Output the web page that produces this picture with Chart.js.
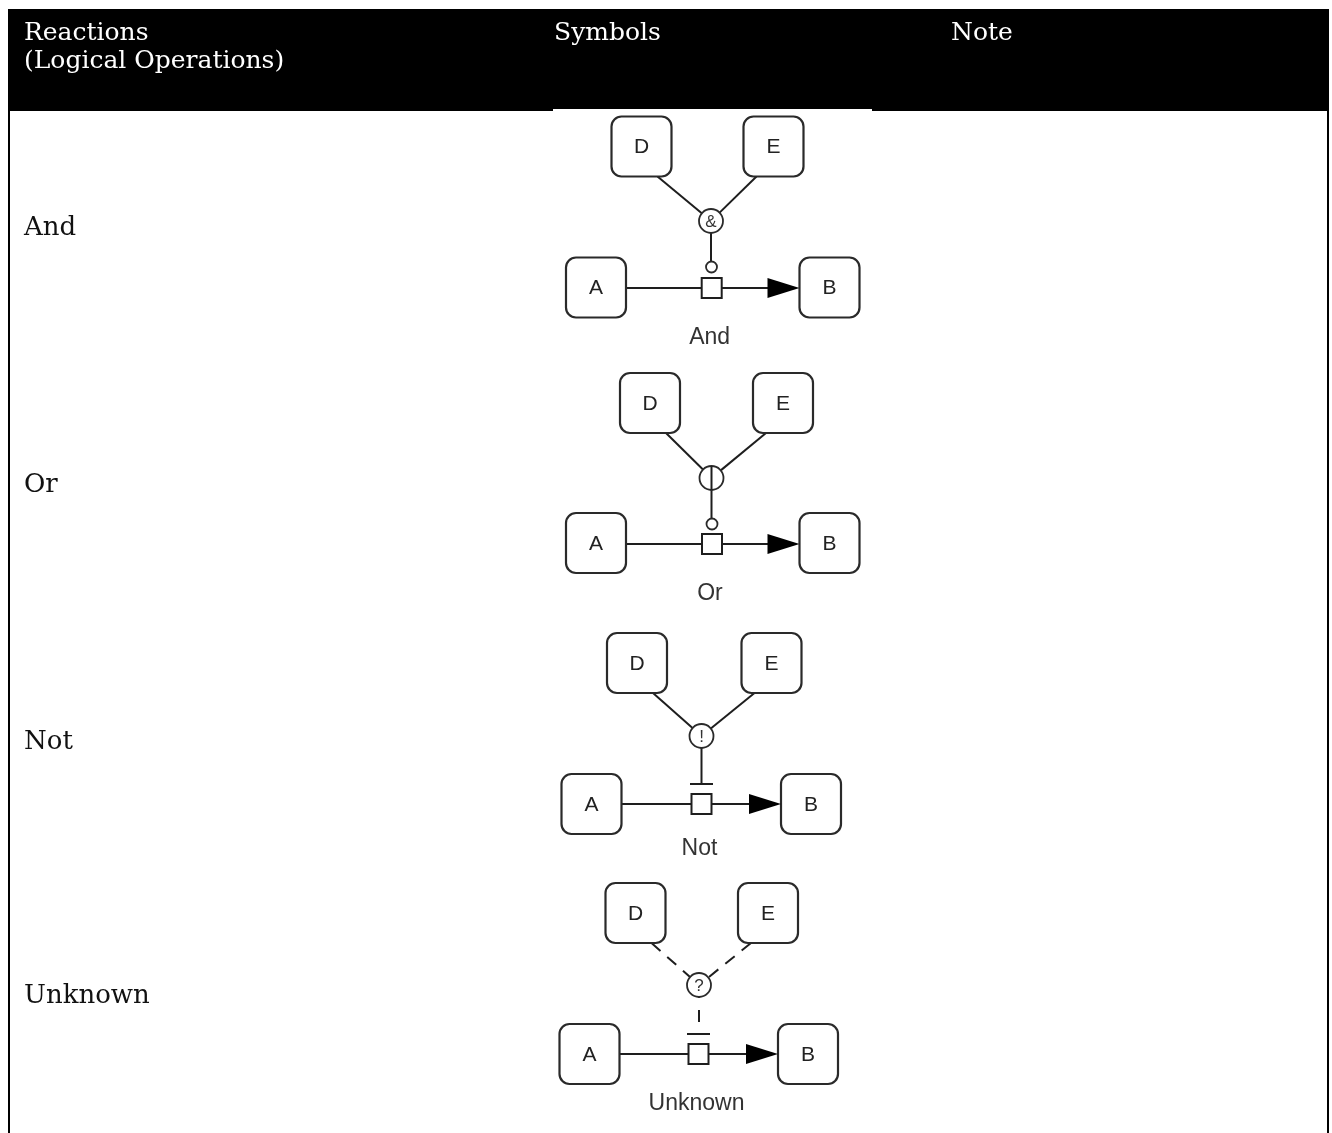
<!DOCTYPE html>
<html>
<head>
<meta charset="utf-8">
<script src="https://cdn.jsdelivr.net/npm/chart.js@4.4.1/dist/chart.umd.min.js"></script>
<style>
  html, body { margin: 0; padding: 0; background: #ffffff; }
  #wrap { width: 1332px; height: 1133px; }
</style>
</head>
<body>
<div id="wrap"><canvas id="c" width="1332" height="1133"></canvas></div>
<script>
// ---------------- data ----------------
const headerLabels = [['Reactions', '(Logical Operations)'], ['Symbols'], ['Note']];
const reactionLabels = ['And', 'Or', 'Not', 'Unknown'];
const operatorGlyphs = ['&', '|', '!', '?'];
const modifierKinds = ['circle', 'circle', 'bar', 'bar'];
const edgeKinds = ['solid', 'solid', 'solid', 'dashed'];
const nodeNames = ['A', 'B', 'D', 'E'];

// ---------------- layout (page coordinates in scale units) ----------------
const layout = {
  table: { left: 8, right: 1329, top: 9, headBottom: 111, bottom: 1133, border: 2 },
  imageCol: { left: 553, right: 872, top: 109 },
  headerX: [24, 554, 951],
  headerBaselines: [40, 68],
  rowLabelX: 24,
  rowLabelBaselines: [235, 492, 749, 1003],
  box: 60, boxRadius: 10, square: 20, opRadius: 12, modRadius: 5.5,
  arrowLen: 32, arrowHalf: 10, dOff: 16, eOff: -17,
  diagrams: [
    { sq: [711.7, 288], A: [596, 287.5], B: [829.5, 287.5], D: [641.5, 146.5], E: [773.5, 146.5], op: [711, 221], mod: 267, label: 338 },
    { sq: [712, 544], A: [596, 543], B: [829.5, 543], D: [650, 403], E: [783, 403], op: [711.5, 478], mod: 524, label: 594 },
    { sq: [701.5, 804], A: [591.5, 804], B: [811, 804], D: [637, 663], E: [771.5, 663], op: [701.5, 736], mod: 784, label: 849 },
    { sq: [698.5, 1054], A: [589.5, 1054], B: [808, 1054], D: [635.5, 913], E: [768, 913], op: [699, 985], mod: 1034, label: 1104 }
  ]
};

// ---------------- edge datasets (drawn by Chart.js line elements) ----------------
const ink = '#1e1e1e';
const datasets = [];
function edge(p, q, dashed, dash, offset) {
  datasets.push({
    type: 'scatter', showLine: true, pointRadius: 0, pointHoverRadius: 0,
    borderColor: ink, borderWidth: 2, fill: false,
    borderDash: dashed ? dash : [], borderDashOffset: offset || 0,
    data: [{ x: p[0], y: p[1] }, { x: q[0], y: q[1] }]
  });
}
reactionLabels.forEach((name, i) => {
  const g = layout.diagrams[i];
  const half = layout.box / 2, sh = layout.square / 2;
  const dashed = edgeKinds[i] === 'dashed';
  edge([g.A[0] + half, g.sq[1]], [g.sq[0] - sh, g.sq[1]], false);
  edge([g.sq[0] + sh, g.sq[1]], [g.B[0] - half - layout.arrowLen + 2, g.sq[1]], false);
  [[g.D[0] + layout.dOff, g.D[1] + half], [g.E[0] + layout.eOff, g.E[1] + half]].forEach(s => {
    const dx = g.op[0] - s[0], dy = g.op[1] - s[1];
    const len = Math.hypot(dx, dy);
    const e = [g.op[0] - dx / len * layout.opRadius, g.op[1] - dy / len * layout.opRadius];
    edge(s, e, dashed, [12, 9], 0);
  });
  if (modifierKinds[i] === 'circle') {
    edge([g.op[0], g.op[1] + layout.opRadius], [g.op[0], g.mod - layout.modRadius], dashed, [12, 12]);
  } else {
    edge([g.op[0], g.mod], [g.op[0], g.op[1] + layout.opRadius], dashed, [12, 12], 12);
  }
});

// ---------------- custom drawing of table + nodes ----------------
const pagePlugin = {
  id: 'page',
  beforeDatasetsDraw(chart) {
    const ctx = chart.ctx, xs = chart.scales.x, ys = chart.scales.y;
    const X = v => xs.getPixelForValue(v), Y = v => ys.getPixelForValue(v);
    const t = layout.table;
    ctx.save();
    ctx.fillStyle = '#000';
    ctx.fillRect(X(t.left), Y(t.top), X(t.right) - X(t.left), Y(t.headBottom) - Y(t.top));
    ctx.fillRect(X(t.left), Y(t.top), t.border, Y(t.bottom) - Y(t.top));
    ctx.fillRect(X(t.right) - t.border, Y(t.top), t.border, Y(t.bottom) - Y(t.top));
    ctx.fillStyle = '#fff';
    const ic = layout.imageCol;
    ctx.fillRect(X(ic.left), Y(ic.top), X(ic.right) - X(ic.left), Y(t.headBottom) - Y(ic.top) + 1);
    ctx.fillStyle = '#ffffff';
    ctx.font = '25px "DejaVu Serif"';
    ctx.textBaseline = 'alphabetic';
    ctx.textAlign = 'left';
    headerLabels.forEach((lines, c) => {
      lines.forEach((ln, k) => ctx.fillText(ln, X(layout.headerX[c]), Y(layout.headerBaselines[k])));
    });
    ctx.fillStyle = '#111111';
    ctx.font = '26px "DejaVu Serif"';
    reactionLabels.forEach((name, i) => ctx.fillText(name, X(layout.rowLabelX), Y(layout.rowLabelBaselines[i])));
    ctx.restore();
  },
  afterDatasetsDraw(chart) {
    const ctx = chart.ctx, xs = chart.scales.x, ys = chart.scales.y;
    const X = v => xs.getPixelForValue(v), Y = v => ys.getPixelForValue(v);
    ctx.save();
    reactionLabels.forEach((name, i) => {
      const g = layout.diagrams[i];
      const half = layout.box / 2, sh = layout.square / 2;
      const nodes = { A: g.A, B: g.B, D: g.D, E: g.E };
      nodeNames.forEach(n => {
        const p = nodes[n];
        ctx.beginPath();
        ctx.roundRect(X(p[0] - half), Y(p[1] - half), layout.box, layout.box, layout.boxRadius);
        ctx.fillStyle = '#fff'; ctx.fill();
        ctx.lineWidth = 2.2; ctx.strokeStyle = '#2a2a2a'; ctx.stroke();
        ctx.fillStyle = '#222';
        ctx.font = '21px "Liberation Sans"';
        ctx.textAlign = 'center'; ctx.textBaseline = 'middle';
        ctx.fillText(n, X(p[0]), Y(p[1] + 1));
      });
      ctx.beginPath();
      ctx.rect(X(g.sq[0] - sh), Y(g.sq[1] - sh), layout.square, layout.square);
      ctx.fillStyle = '#fff'; ctx.fill();
      ctx.lineWidth = 2; ctx.strokeStyle = ink; ctx.stroke();
      const tip = g.B[0] - half;
      ctx.beginPath();
      ctx.moveTo(X(tip), Y(g.sq[1]));
      ctx.lineTo(X(tip - layout.arrowLen), Y(g.sq[1] - layout.arrowHalf));
      ctx.lineTo(X(tip - layout.arrowLen), Y(g.sq[1] + layout.arrowHalf));
      ctx.closePath();
      ctx.fillStyle = '#000'; ctx.fill();
      ctx.beginPath();
      ctx.arc(X(g.op[0]), Y(g.op[1]), layout.opRadius, 0, Math.PI * 2);
      ctx.fillStyle = '#fff'; ctx.fill();
      ctx.lineWidth = 1.8; ctx.strokeStyle = '#2a2a2a'; ctx.stroke();
      if (operatorGlyphs[i] === '|') {
        ctx.beginPath();
        ctx.moveTo(X(g.op[0]), Y(g.op[1] - layout.opRadius));
        ctx.lineTo(X(g.op[0]), Y(g.op[1] + layout.opRadius));
        ctx.lineWidth = 2; ctx.strokeStyle = ink; ctx.stroke();
      } else {
        ctx.fillStyle = '#333';
        ctx.font = '17px "Liberation Sans"';
        ctx.textAlign = 'center'; ctx.textBaseline = 'middle';
        ctx.fillText(operatorGlyphs[i], X(g.op[0]), Y(g.op[1] + 1));
      }
      if (modifierKinds[i] === 'circle') {
        ctx.beginPath();
        ctx.arc(X(g.op[0] + 0.5), Y(g.mod), layout.modRadius, 0, Math.PI * 2);
        ctx.fillStyle = '#fff'; ctx.fill();
        ctx.lineWidth = 1.8; ctx.strokeStyle = '#2a2a2a'; ctx.stroke();
      } else {
        ctx.beginPath();
        ctx.moveTo(X(g.sq[0] - 11.5), Y(g.mod));
        ctx.lineTo(X(g.sq[0] + 11.5), Y(g.mod));
        ctx.lineWidth = 2; ctx.strokeStyle = ink; ctx.stroke();
      }
      ctx.fillStyle = '#333';
      ctx.font = '23px "Liberation Sans"';
      ctx.textAlign = 'center'; ctx.textBaseline = 'middle';
      ctx.fillText(name, X(g.sq[0] - 2), Y(g.label));
    });
    ctx.restore();
  }
};

new Chart(document.getElementById('c'), {
  type: 'scatter',
  data: { datasets },
  options: {
    responsive: false,
    animation: false,
    devicePixelRatio: 1,
    layout: { padding: 0 },
    events: [],
    plugins: { legend: { display: false }, tooltip: { enabled: false }, title: { display: false } },
    scales: {
      x: { type: 'linear', min: 0, max: 1332, display: false },
      y: { type: 'linear', min: 0, max: 1133, reverse: true, display: false }
    }
  },
  plugins: [pagePlugin]
});
</script>
</body>
</html>
